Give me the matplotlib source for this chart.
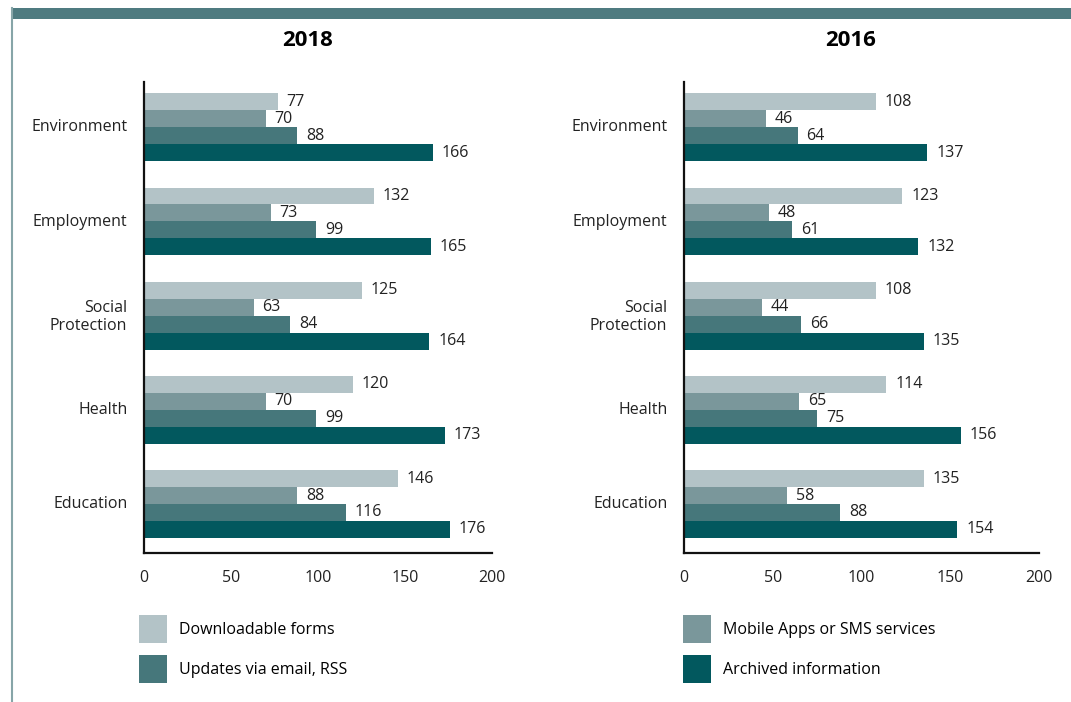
import matplotlib.pyplot as plt
import numpy as np
from matplotlib.patches import Rectangle
from matplotlib.lines import Line2D

plt.rcParams['font.family'] = ['Open Sans', 'DejaVu Sans']

# datos
categorias = ['Environment', 'Employment', 'Social\nProtection', 'Health', 'Education']
series = ['Downloadable forms', 'Mobile Apps or SMS services',
          'Updates via email, RSS', 'Archived information']
colores = ['#b3c3c7', '#7a979b', '#46777b', '#02585e']

forms_2018 = [77, 132, 125, 120, 146]
mobile_2018 = [70, 73, 63, 70, 88]
updates_2018 = [88, 99, 84, 99, 116]
archived_2018 = [166, 165, 164, 173, 176]

forms_2016 = [108, 123, 108, 114, 135]
mobile_2016 = [46, 48, 44, 65, 58]
updates_2016 = [64, 61, 66, 75, 88]
archived_2016 = [137, 132, 135, 156, 154]

datos = {
    '2018': [forms_2018, mobile_2018, updates_2018, archived_2018],
    '2016': [forms_2016, mobile_2016, updates_2016, archived_2016],
}

fig = plt.figure(figsize=(10.71, 7.02), dpi=100)

# marco decorativo
fig.add_artist(Rectangle((11 / 1071, 1 - 19 / 702), 1 - 11 / 1071, 11 / 702,
                         transform=fig.transFigure, color='#4f7b80', lw=0))
fig.add_artist(Line2D([11.5 / 1071, 11.5 / 1071], [0, 1 - 8 / 702],
                      transform=fig.transFigure, color='#87a5a8', lw=1.5))

W, H = 1071, 702
axes_px = {'2018': (144, 492), '2016': (684, 1039)}
y_top, y_bot = 82, 553

h = 0.18
pos = np.arange(len(categorias))
barras = []
for anio, (x0, x1) in axes_px.items():
    ax = fig.add_axes([x0 / W, 1 - y_bot / H, (x1 - x0) / W, (y_bot - y_top) / H])
    for k, (vals, col) in enumerate(zip(datos[anio], colores)):
        b = ax.barh(pos + (k - 1.5) * h, vals, height=h, color=col)
        barras.append(b)
        for yy, v in zip(pos + (k - 1.5) * h, vals):
            ax.text(v + 5, yy, str(v), va='center', ha='left', fontsize=11.5, color='#222222')
    ax.set_xlim(0, 200)
    ax.set_ylim(4.52, -0.48)
    ax.set_yticks(pos - 0.02)
    ax.set_yticklabels(categorias, fontsize=11.5, color='#222222')
    ax.set_xticks([0, 50, 100, 150, 200])
    ax.tick_params(axis='both', length=0, labelsize=11.5, colors='#222222')
    ax.tick_params(axis='y', pad=12)
    ax.tick_params(axis='x', pad=12)
    for s in ['top', 'right']:
        ax.spines[s].set_visible(False)
    for s in ['left', 'bottom']:
        ax.spines[s].set_linewidth(1.6)
        ax.spines[s].set_color('#111111')
    ax.set_title(anio, fontsize=16, weight='bold', pad=26, x=0.47)

# leyendas
h_izq = [barras[0], barras[2]]
h_der = [barras[1], barras[3]]
kw = dict(loc='upper left', frameon=False, fontsize=11.5, handlelength=1.75,
          handleheight=2.3, labelspacing=0.76, handletextpad=0.75, borderaxespad=0)
fig.legend(h_izq, [series[0], series[2]], bbox_to_anchor=(133 / W, 1 - 609 / H), **kw)
fig.legend(h_der, [series[1], series[3]], bbox_to_anchor=(677 / W, 1 - 609 / H), **kw)

plt.savefig('out.png', dpi=100)
